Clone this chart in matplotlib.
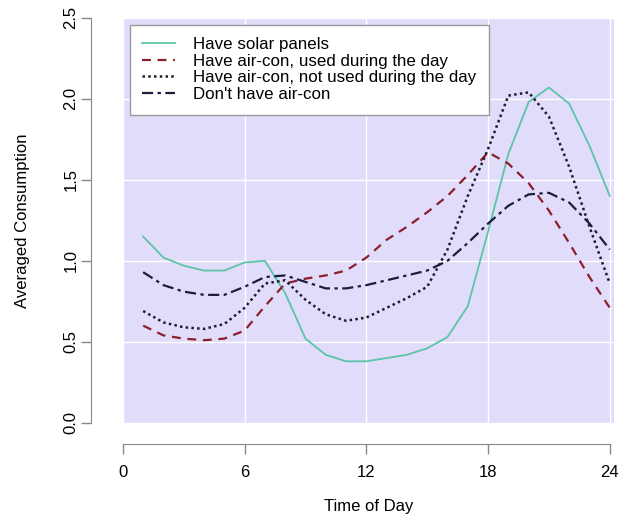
import numpy as np
import matplotlib
matplotlib.use("Agg")
import matplotlib.pyplot as plt

# Datos por hora
horas = np.arange(1, 25)
solar = [1.15, 1.02, 0.97, 0.94, 0.94, 0.99, 1.00, 0.80, 0.52, 0.42, 0.38, 0.38,
         0.40, 0.42, 0.46, 0.53, 0.72, 1.18, 1.66, 1.98, 2.07, 1.97, 1.71, 1.40]
ac_dia = [0.60, 0.54, 0.52, 0.51, 0.52, 0.57, 0.72, 0.86, 0.89, 0.91, 0.94, 1.02,
          1.13, 1.21, 1.30, 1.40, 1.53, 1.67, 1.60, 1.48, 1.31, 1.11, 0.90, 0.71]
ac_noche = [0.69, 0.62, 0.59, 0.58, 0.61, 0.71, 0.86, 0.88, 0.76, 0.67, 0.63, 0.65,
            0.71, 0.77, 0.84, 1.07, 1.40, 1.69, 2.02, 2.04, 1.89, 1.58, 1.21, 0.86]
sin_ac = [0.93, 0.85, 0.81, 0.79, 0.79, 0.84, 0.90, 0.91, 0.87, 0.83, 0.83, 0.85,
          0.88, 0.91, 0.94, 1.00, 1.11, 1.23, 1.34, 1.41, 1.42, 1.36, 1.23, 1.07]

etiquetas = ["Have solar panels", "Have air-con, used during the day",
             "Have air-con, not used during the day", "Don't have air-con"]
xticks = [0, 6, 12, 18, 24]
yticks = [0.0, 0.5, 1.0, 1.5, 2.0, 2.5]

plt.rcParams['font.family'] = ['Liberation Sans', 'DejaVu Sans']

fig = plt.figure(figsize=(6.27, 5.24), dpi=100)
ax = fig.add_axes([0.196, 0.193, 0.783, 0.773])
ax.set_facecolor('#e2dcfb')

ax.plot(horas, solar, '-', color='#5cc4a6', lw=1.3, label=etiquetas[0])
ax.plot(horas, ac_dia, '--', color='#8b1f2e', lw=1.6, dashes=(4, 3), label=etiquetas[1])
ax.plot(horas, ac_noche, ':', color='#1e1e2a', lw=1.8, dashes=(1, 1.3), label=etiquetas[2])
ax.plot(horas, sin_ac, '-.', color='#1c1c3c', lw=1.6, dashes=(5, 2, 1.5, 2), label=etiquetas[3])

ax.set_xlim(0, 24.2)
ax.set_ylim(0, 2.5)
ax.set_xticks(xticks)
ax.set_yticks(yticks)
ax.set_yticklabels([f"{v:.1f}" for v in yticks])
ax.grid(True, color='white', lw=1.0)
ax.set_axisbelow(True)

# Ejes separados al estilo R
for s in ['top', 'right']:
    ax.spines[s].set_visible(False)
ax.spines['left'].set_position(('outward', 23))
ax.spines['bottom'].set_position(('outward', 15))
ax.spines['left'].set_bounds(0, 2.5)
ax.spines['bottom'].set_bounds(0, 24)
for s in ['left', 'bottom']:
    ax.spines[s].set_color('#888888')
ax.tick_params(colors='#888888', labelcolor='black', labelsize=12, length=7, width=1)
ax.tick_params(axis='x', pad=8)
ax.tick_params(axis='y', labelrotation=90, pad=2)
for t in ax.get_yticklabels():
    t.set_va('center')

ax.set_xlabel('Time of Day', fontsize=12, labelpad=14)
ax.set_ylabel('Averaged Consumption', fontsize=12, labelpad=24)

leg = ax.legend(loc='upper left', fontsize=12.2, frameon=True, fancybox=False,
                handlelength=1.9, handletextpad=1.1, borderaxespad=0.4,
                labelspacing=0.09, borderpad=0.75,
                bbox_to_anchor=(0.0, 1.0))
leg.get_frame().set_edgecolor('#999999')
leg.get_frame().set_alpha(1)

fig.savefig('out.png', dpi=100)
